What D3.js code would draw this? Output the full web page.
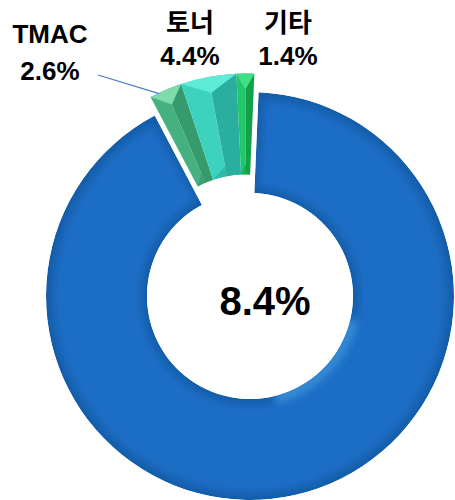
<!DOCTYPE html>
<html>
<head>
<meta charset="utf-8">
<script src="https://cdn.jsdelivr.net/npm/d3@7"></script>
<style>
body { margin: 0; background: white; }
text { font-family: "Liberation Sans", "Noto Sans CJK KR", sans-serif; font-weight: bold; fill: #000; }
</style>
</head>
<body>
<svg id="chart"></svg>
<script>
// data
var names = ["나머지", "TMAC", "토너", "기타"];
var values = [91.6, 2.6, 4.4, 1.4];
var exploded = [false, true, true, true];

// colours: [top facet, left face, right face]
var faceColors = {
  "TMAC": ["#7ddcaa", "#45b080", "#359a6c"],
  "토너": ["#5eecd6", "#3dd2bd", "#2aae9f"],
  "기타": ["#3fe08a", "#22c868", "#12a048"]
};

var width = 455, height = 500;
var cx = 250, cy = 296, rOuter = 204, rInner = 103;
var startDeg = 2.4, explode = 19;

var svg = d3.select("#chart").attr("width", width).attr("height", height);
var defs = svg.append("defs");
defs.append("filter").attr("id", "soft")
  .attr("x", "-20%").attr("y", "-20%").attr("width", "140%").attr("height", "140%")
  .append("feGaussianBlur").attr("stdDeviation", 4);

var pie = d3.pie().sort(null).value(d => d)
  .startAngle(startDeg * Math.PI / 180)
  .endAngle(startDeg * Math.PI / 180 + 2 * Math.PI);
var arcs = pie(values);

var arc = d3.arc().innerRadius(rInner).outerRadius(rOuter);

// group explosion direction (mid angle of the exploded slices)
var ex = arcs.filter((a, i) => exploded[i]);
var gMid = (d3.min(ex, a => a.startAngle) + d3.max(ex, a => a.endAngle)) / 2;
var ox = explode * Math.sin(gMid), oy = -explode * Math.cos(gMid);

var g = svg.append("g").attr("transform", "translate(" + cx + "," + cy + ")");

// big blue slice with soft bevel
var blue = arcs[0];
var clip = defs.append("clipPath").attr("id", "blueClip");
clip.append("path").attr("d", arc(blue));
var bg = g.append("g").attr("clip-path", "url(#blueClip)");
bg.append("path").attr("d", arc(blue)).attr("fill", "#155da9");
bg.append("path")
  .attr("d", d3.arc().innerRadius(rInner + 6).outerRadius(rOuter - 7)
    .startAngle(blue.startAngle + 0.03).endAngle(blue.endAngle - 0.03)())
  .attr("fill", "#1c6dc6").attr("filter", "url(#soft)");
bg.append("path")
  .attr("d", d3.arc().innerRadius(rInner - 2).outerRadius(rInner + 7)
    .startAngle(1.8).endAngle(2.9)())
  .attr("fill", "#4aa6f0").attr("opacity", 0.8).attr("filter", "url(#soft)");

// exploded small slices drawn as faceted prisms
var sg = g.append("g").attr("transform", "translate(" + ox + "," + oy + ")");
arcs.forEach(function (a, i) {
  if (!exploded[i]) return;
  var c = faceColors[names[i]];
  var mid = (a.startAngle + a.endAngle) / 2;
  sg.append("path")
    .attr("d", d3.arc().innerRadius(rInner).outerRadius(rOuter).startAngle(a.startAngle).endAngle(mid)())
    .attr("fill", c[1]);
  sg.append("path")
    .attr("d", d3.arc().innerRadius(rInner).outerRadius(rOuter).startAngle(mid).endAngle(a.endAngle)())
    .attr("fill", c[2]);
  // top facet
  var p0 = [rOuter * Math.sin(a.startAngle), -rOuter * Math.cos(a.startAngle)];
  var ap = [(rOuter - 16) * Math.sin(mid), -(rOuter - 16) * Math.cos(mid)];
  var path = d3.path();
  path.moveTo(p0[0], p0[1]);
  path.arc(0, 0, rOuter, a.startAngle - Math.PI / 2, a.endAngle - Math.PI / 2);
  path.lineTo(ap[0], ap[1]);
  path.closePath();
  sg.append("path").attr("d", path.toString()).attr("fill", c[0]);
  // bottom facet
  var q0 = [rInner * Math.sin(a.startAngle), -rInner * Math.cos(a.startAngle)];
  var bp = [(rInner + 10) * Math.sin(mid), -(rInner + 10) * Math.cos(mid)];
  var path2 = d3.path();
  path2.moveTo(q0[0], q0[1]);
  path2.arc(0, 0, rInner, a.startAngle - Math.PI / 2, a.endAngle - Math.PI / 2);
  path2.lineTo(bp[0], bp[1]);
  path2.closePath();
  sg.append("path").attr("d", path2.toString()).attr("fill", c[2]).attr("opacity", 0.7);
});

// labels
var labelPos = { "TMAC": [50, 43, 80], "토너": [190, 32, 65], "기타": [288, 32, 65] };
names.forEach(function (n, i) {
  if (!labelPos[n]) return;
  var p = labelPos[n];
  svg.append("text").attr("x", p[0]).attr("y", p[1]).attr("text-anchor", "middle")
    .attr("font-size", 26).text(n);
  svg.append("text").attr("x", p[0]).attr("y", p[2]).attr("text-anchor", "middle")
    .attr("font-size", 26).text(values[i].toFixed(1) + "%");
});

// leader line for TMAC
var tm = arcs[1];
var tmMid = (tm.startAngle + tm.endAngle) / 2;
svg.append("line")
  .attr("x1", 98).attr("y1", 75)
  .attr("x2", cx + ox + (rOuter - 4) * Math.sin(tmMid) - 8)
  .attr("y2", cy + oy - (rOuter - 4) * Math.cos(tmMid))
  .attr("stroke", "#4a7cc4").attr("stroke-width", 1.2);

// centre total
var total = d3.sum(values.filter((v, i) => exploded[i]));
svg.append("text").attr("x", 265).attr("y", 315).attr("text-anchor", "middle")
  .attr("font-size", 40).text(total.toFixed(1) + "%");
</script>
</body>
</html>
